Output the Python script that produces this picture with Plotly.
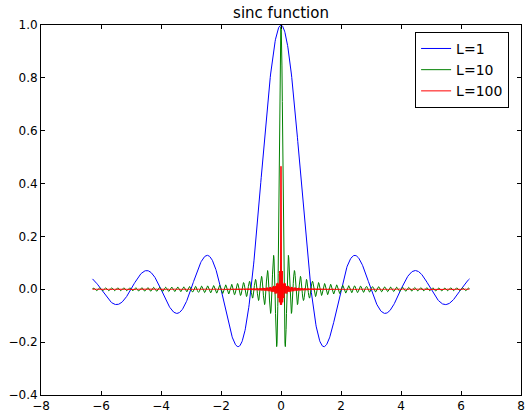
import numpy as np
import plotly.graph_objects as go

# Parameters of the sinc curves (legend values)
L_values = [1, 10, 100]
series_names = ["L=1", "L=10", "L=100"]
series_colors = ["#0000ff", "#008000", "#ff0000"]
n_samples = 1000
x_values = np.linspace(-2 * np.pi, 2 * np.pi, n_samples)

x_ticks = [-8, -6, -4, -2, 0, 2, 4, 6, 8]
y_ticks = [-0.4, -0.2, 0.0, 0.2, 0.4, 0.6, 0.8, 1.0]

fig = go.Figure()
for L, name, color in zip(L_values, series_names, series_colors):
    fig.add_trace(go.Scatter(
        x=x_values, y=np.sinc(L * x_values), mode="lines", name=name,
        line=dict(color=color, width=1),
    ))

W, H = 528, 416
left, right, top, bottom = 41, 525, 25, 402
fig.update_layout(
    width=W, height=H,
    margin=dict(l=left, r=W - right, t=top, b=H - bottom, pad=0),
    paper_bgcolor="white", plot_bgcolor="white",
    font=dict(family="DejaVu Sans", size=12, color="black"),
    title=dict(text="sinc function", x=0.5, xref="paper", y=1 - 13 / H,
               yanchor="middle", xanchor="center", font=dict(size=15)),
    showlegend=True,
    legend=dict(x=(513 - left) / (right - left), xanchor="right",
                y=(bottom - 32) / (bottom - top), yanchor="top",
                bgcolor="white", bordercolor="black", borderwidth=1,
                font=dict(size=14), itemwidth=30),
)
axis_common = dict(
    showgrid=False, zeroline=False, showline=True, linecolor="black",
    linewidth=1, mirror="ticks", ticks="inside", ticklen=4, tickcolor="black",
)
fig.update_xaxes(range=[-8, 8], tickvals=x_ticks, **axis_common)
fig.update_yaxes(range=[-0.4, 1.0], tickvals=y_ticks, tickformat=".1f", **axis_common)

fig.write_html("out.html")
